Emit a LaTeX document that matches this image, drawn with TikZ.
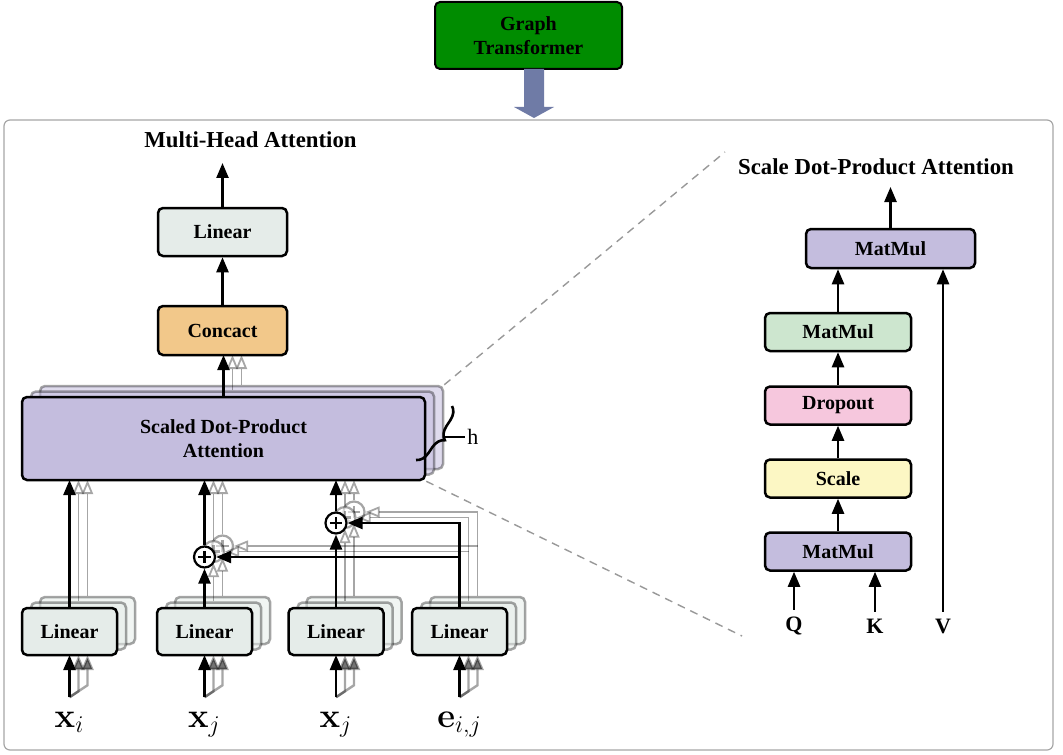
\documentclass[tikz,border=0pt]{standalone}
\usepackage[no-math]{fontspec}
\setmainfont{Liberation Serif}
\usetikzlibrary{positioning,arrows.meta,decorations.pathreplacing}

\definecolor{gtgreen}{RGB}{0,140,0}
\definecolor{fatblue}{RGB}{111,123,166}
\definecolor{lingray}{RGB}{229,236,233}
\definecolor{catorange}{RGB}{242,200,138}
\definecolor{attpurple}{RGB}{196,189,222}
\definecolor{mmgreen}{RGB}{205,230,207}
\definecolor{droppink}{RGB}{246,199,221}
\definecolor{scaleyellow}{RGB}{252,247,196}

% text only on the front head
\newcommand{\fronttxt}[1]{\ifnum\k=0 #1\fi}

\tikzset{
  blk/.style={draw, rounded corners=2.5pt, line width=1.25pt, font=\bfseries, align=center, inner sep=1pt},
  linbox/.style={blk, fill=lingray, minimum width=47.5pt, minimum height=23.5pt},
  rbox/.style={blk, minimum width=73pt, minimum height=19pt},
  arr/.style={-{Triangle[length=7.5pt,width=6pt]}, line width=1.2pt},
  plus/.style={circle, draw, line width=1.1pt, fill=white, minimum size=10.5pt, inner sep=0pt,
    path picture={
      \draw[line width=1.1pt, shorten <=2.2pt, shorten >=2.2pt]
        (path picture bounding box.west) -- (path picture bounding box.east);
      \draw[line width=1.1pt, shorten <=2.2pt, shorten >=2.2pt]
        (path picture bounding box.north) -- (path picture bounding box.south);}},
  ttl/.style={font=\fontsize{11.4}{13}\selectfont\bfseries},
  qkv/.style={font=\fontsize{11}{13}\selectfont\bfseries},
  inp/.style={font=\LARGE, inner xsep=2pt, inner ysep=7pt, anchor=base},
  ghost/.style={draw opacity=0.35, fill opacity=0.55,
    arr/.style={-{Triangle[open,length=7pt,width=5.5pt]}, line width=0.9pt}},
  lay0/.style={}, lay1/.style={ghost}, lay2/.style={ghost},
  zoomline/.style={dash pattern=on 4pt off 3pt, draw=black!40, line width=0.7pt},
}

\begin{document}
\begin{tikzpicture}[x=0.5pt, y=-0.5pt]
\useasboundingbox (0,0) rectangle (1063,754);

% outer frame
\draw[black!35, line width=0.6pt, rounded corners=3pt] (4,120) rectangle (1053,750);

% graph transformer + big arrow
\node[blk, fill=gtgreen, line width=1pt, minimum width=93.5pt, minimum height=33.5pt] (gt) at (528.5,35.5) {Graph\\Transformer};
\fill[fatblue] (524,69) -- (544,69) -- (544,107) -- (554,107) -- (534,118) -- (514,107) -- (524,107) -- cycle;

% inputs
\node[inp] (xi) at (69.5,727) {$\mathbf{x}_i$};
\node[inp] (xj) at (204.5,727) {$\mathbf{x}_j$};
\node[inp] (xk) at (336,727) {$\mathbf{x}_j$};
\node[inp] (eij) at (459.5,727) {$\mathbf{e}_{i,j}$};
\coordinate (linb) at (0,655);
\coordinate (sdpab) at (0,480);
\coordinate (ccb) at (0,355);

% heads, back to front
\foreach \k in {2,1,0}{
  \begin{scope}[shift={(9*\k,-5.5*\k)}, lay\k]
    \node[blk, fill=attpurple, minimum width=201.5pt, minimum height=41.5pt] (sdpa-\k) at (223.5,438.5) {\fronttxt{Scaled Dot-Product\\Attention}};
    \node[linbox] (la-\k) at (69.5,631.5) {\fronttxt{Linear}};
    \node[linbox] (lb-\k) at (204.5,631.5) {\fronttxt{Linear}};
    \node[linbox] (lc-\k) at (336,631.5) {\fronttxt{Linear}};
    \node[linbox] (ld-\k) at (459.5,631.5) {\fronttxt{Linear}};
    \node[plus] (pa-\k) at (204.5,557) {};
    \node[plus] (pb-\k) at (336,523) {};
    \draw[arr] (la-\k.north) -- (la-\k.north |- sdpab);
    \draw[arr] (lb-\k.north) -- (pa-\k);
    \draw[arr] (pa-\k) -- (pa-\k |- sdpab);
    \draw[arr] (lc-\k.north) -- (pb-\k);
    \draw[arr] (pb-\k) -- (pb-\k |- sdpab);
    \draw[arr] (ld-\k.north) |- (pb-\k.east);
    \draw[arr] (ld-\k.north |- pa-\k.east) -- (pa-\k.east);
    \draw[arr] (sdpa-\k.north) -- (sdpa-\k.north |- ccb);
  \end{scope}
  \draw[arr, lay\k] (xi.north) -- ++(9*\k,-6*\k) -- (la-\k.south |- linb);
  \draw[arr, lay\k] (xj.north) -- ++(9*\k,-6*\k) -- (lb-\k.south |- linb);
  \draw[arr, lay\k] (xk.north) -- ++(9*\k,-6*\k) -- (lc-\k.south |- linb);
  \draw[arr, lay\k] (eij.north) -- ++(9*\k,-6*\k) -- (ld-\k.south |- linb);
}

% multi-head output
\node[blk, fill=catorange, minimum width=64.5pt, minimum height=24.5pt] (cc) at (222.5,330.5) {Concact};
\node[blk, fill=lingray, minimum width=64.5pt, minimum height=24pt] (lt) at (222.5,232) {Linear};
\node[ttl] (mha) at (250.5,140) {Multi-Head Attention};
\coordinate (mhaout) at (222.5,163);
\draw[arr] (cc.north) -- (lt.south);
\draw[arr] (lt.north) -- (mhaout);

% h brace
\draw[line width=1.3pt, decorate, decoration={brace, amplitude=6.5pt}] (452,406) -- (416,460);
\coordinate (btip) at (445,437);
\node[font=\fontsize{11}{13}\selectfont, anchor=west, inner sep=1pt] (h) at (465,437) {h};
\draw[line width=1.3pt] (btip) -- (h.west);

% zoom lines
\coordinate (zt) at (725,152);
\coordinate (zb) at (742,636);
\draw[zoomline] (sdpa-2.north east) -- (zt);
\draw[zoomline] (sdpa-0.south east) -- (zb);

% scaled dot-product attention
\node[ttl] (sdpt) at (876,167) {Scale Dot-Product Attention};
\coordinate (sdpout) at (890.5,187);
\node[blk, fill=attpurple, minimum width=84.5pt, minimum height=19.5pt] (mmtop) at (890.5,248.5) {MatMul};
\node[rbox, fill=mmgreen] (mmg) at (838,332) {MatMul};
\node[rbox, fill=droppink] (drop) at (838,405.5) {Dropout};
\node[rbox, fill=scaleyellow] (scl) at (838,478.5) {Scale};
\node[rbox, fill=attpurple] (mmbot) at (838,551.5) {MatMul};
\node[qkv] (q) at (794,626) {Q};
\node[qkv] (k) at (875,626) {K};
\node[qkv] (v) at (943,626) {V};
\draw[arr] (mmtop.north) -- (sdpout);
\draw[arr] (mmg.north) -- (mmg.north |- mmtop.south);
\draw[arr] (drop) -- (mmg);
\draw[arr] (scl) -- (drop);
\draw[arr] (mmbot) -- (scl);
\draw[arr] (q) -- (q |- mmbot.south);
\draw[arr] (k) -- (k |- mmbot.south);
\draw[arr] (v) -- (v |- mmtop.south);
\end{tikzpicture}
\end{document}
